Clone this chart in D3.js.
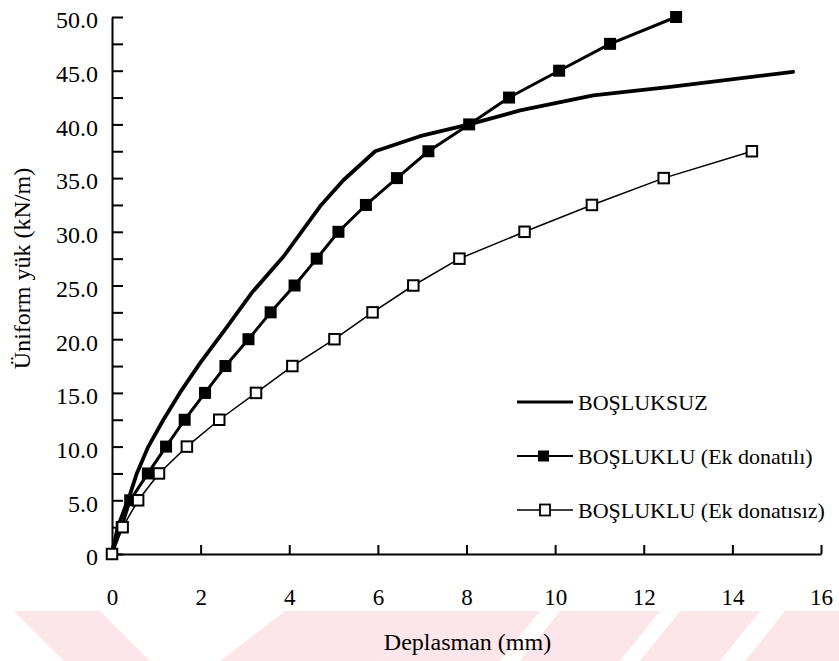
<!DOCTYPE html>
<html>
<head>
<meta charset="utf-8">
<script src="https://cdn.jsdelivr.net/npm/d3@7"></script>
<style>
  html, body { margin: 0; padding: 0; background: #fff; }
  svg { display: block; }
  text { font-family: "Liberation Serif", "Times New Roman", serif; fill: #000; }
</style>
</head>
<body>
<svg id="chart" width="839" height="661"></svg>
<script>
// Load–deflection test results
const seriesNames = ["BOŞLUKSUZ", "BOŞLUKLU (Ek donatılı)", "BOŞLUKLU (Ek donatısız)"];

// Solid slab (no openings): continuous curve
const deflSolid = [0, 0.13, 0.41, 0.56, 0.82, 1.16, 1.53, 1.99, 2.55, 3.15, 3.87, 4.70, 5.22, 5.94, 6.95, 8.06, 9.21, 10.86, 12.6, 15.37];
const loadSolid = [0, 2.5, 5.6, 7.5, 10.0, 12.5, 15.0, 17.8, 20.9, 24.3, 27.7, 32.4, 34.8, 37.5, 38.9, 40.0, 41.3, 42.7, 43.5, 44.9];

// Slab with openings, extra reinforcement (filled squares)
const deflReinf = [0, 0.22, 0.41, 0.81, 1.22, 1.64, 2.10, 2.56, 3.08, 3.58, 4.12, 4.62, 5.11, 5.73, 6.43, 7.14, 8.06, 8.96, 10.09, 11.24, 12.73];
const loadReinf = [0, 2.5, 5, 7.5, 10, 12.5, 15, 17.5, 20, 22.5, 25, 27.5, 30, 32.5, 35, 37.5, 40, 42.5, 45, 47.5, 50];

// Slab with openings, no extra reinforcement (open squares)
const deflPlain = [0, 0.24, 0.59, 1.06, 1.69, 2.42, 3.25, 4.07, 5.02, 5.88, 6.80, 7.84, 9.31, 10.83, 12.45, 14.44];
const loadPlain = [0, 2.5, 5, 7.5, 10, 12.5, 15, 17.5, 20, 22.5, 25, 27.5, 30, 32.5, 35, 37.5];

// Axis ticks
const xTicks = [0, 2, 4, 6, 8, 10, 12, 14, 16];
const yTicks = [0, 2.5, 5, 7.5, 10, 12.5, 15, 17.5, 20, 22.5, 25, 27.5, 30, 32.5, 35, 37.5, 40, 42.5, 45, 47.5, 50];

const svg = d3.select("#chart");

// Faint diagonal band decoration along the bottom edge
const band = svg.append("g").attr("fill", "#fde6ea");
const bandShapes = [
  [[14, 611], [100, 611], [150, 661], [64, 661]],
  [[285, 611], [420, 611], [380, 661], [220, 661]],
  [[420, 611], [540, 611], [500, 661], [380, 661]],
  [[560, 611], [660, 611], [620, 661], [520, 661]],
  [[680, 611], [760, 611], [720, 661], [640, 661]],
  [[785, 611], [839, 611], [839, 661], [745, 661]]
];
bandShapes.forEach(p => band.append("polygon").attr("points", p.map(q => q.join(",")).join(" ")));

const x = d3.scaleLinear().domain([0, 16]).range([112, 821]);
const y = d3.scaleLinear().domain([0, 50]).range([554, 17]);

const serif = '"Liberation Serif", "Times New Roman", serif';

// Y axis: inward ticks every 2.5, labels every 5
const yAxis = d3.axisLeft(y)
  .tickValues(yTicks)
  .tickSizeInner(-11)
  .tickSizeOuter(0)
  .tickPadding(14)
  .tickFormat(d => (d % 5 === 0 ? (d === 0 ? "0" : d.toFixed(1)) : ""));
const gy = svg.append("g").attr("transform", `translate(${x(0)},0)`).call(yAxis);
gy.select(".domain").attr("stroke", "#000").attr("stroke-width", 2);
gy.selectAll(".tick line").attr("stroke", "#000").attr("stroke-width", 2);
gy.selectAll(".tick text").attr("font-size", 24).attr("fill", "#000").attr("dy", "0.45em")
  .attr("font-family", serif);

// X axis: upward ticks every 2 mm
const xAxis = d3.axisBottom(x)
  .tickValues(xTicks)
  .tickSizeInner(-9)
  .tickSizeOuter(0)
  .tickPadding(35)
  .tickFormat(d3.format("d"));
const gx = svg.append("g").attr("transform", `translate(0,${y(0)})`).call(xAxis);
gx.select(".domain").attr("stroke", "#000").attr("stroke-width", 2);
gx.selectAll(".tick line").attr("stroke", "#000").attr("stroke-width", 2);
gx.selectAll(".tick text").attr("font-size", 23).attr("fill", "#000")
  .attr("font-family", serif);

// Axis titles
svg.append("text")
  .attr("transform", `translate(30,${(165 + 372) / 2}) rotate(-90)`)
  .attr("text-anchor", "middle")
  .attr("font-size", 24)
  .text("Üniform yük (kN/m)");
svg.append("text")
  .attr("x", (x(0) + x(16)) / 2 + 1)
  .attr("y", 650)
  .attr("text-anchor", "middle")
  .attr("font-size", 24)
  .text("Deplasman (mm)");

const line = d3.line().x(d => x(d[0])).y(d => y(d[1]));

// Curves
const solidPts = deflSolid.map((d, i) => [d, loadSolid[i]]);
const reinfPts = deflReinf.map((d, i) => [d, loadReinf[i]]);
const plainPts = deflPlain.map((d, i) => [d, loadPlain[i]]);

svg.append("path").datum(solidPts).attr("d", line)
  .attr("fill", "none").attr("stroke", "#000").attr("stroke-width", 3.8).attr("stroke-linejoin", "round").attr("stroke-linecap", "round");
svg.append("path").datum(reinfPts).attr("d", line)
  .attr("fill", "none").attr("stroke", "#000").attr("stroke-width", 3).attr("stroke-linejoin", "round");
svg.append("path").datum(plainPts).attr("d", line)
  .attr("fill", "none").attr("stroke", "#000").attr("stroke-width", 1.5).attr("stroke-linejoin", "round");

// Markers
const mFill = 12, mOpen = 10.5;
svg.append("g").selectAll("rect").data(reinfPts).join("rect")
  .attr("x", d => x(d[0]) - mFill / 2).attr("y", d => y(d[1]) - mFill / 2)
  .attr("width", mFill).attr("height", mFill).attr("fill", "#000");
svg.append("g").selectAll("rect").data(plainPts).join("rect")
  .attr("x", d => x(d[0]) - mOpen / 2).attr("y", d => y(d[1]) - mOpen / 2)
  .attr("width", mOpen).attr("height", mOpen).attr("fill", "#fff")
  .attr("stroke", "#000").attr("stroke-width", 2);

// Legend
const legend = svg.append("g");
const legRows = [
  { name: seriesNames[0], y: 402, sw: 3, marker: null },
  { name: seriesNames[1], y: 456, sw: 2, marker: "filled" },
  { name: seriesNames[2], y: 510, sw: 1.5, marker: "open" }
];
legRows.forEach(r => {
  legend.append("line").attr("x1", 517).attr("x2", 573).attr("y1", r.y).attr("y2", r.y)
    .attr("stroke", "#000").attr("stroke-width", r.sw);
  if (r.marker === "filled") {
    legend.append("rect").attr("x", 538).attr("y", r.y - 5.5).attr("width", 11).attr("height", 11).attr("fill", "#000");
  } else if (r.marker === "open") {
    legend.append("rect").attr("x", 540).attr("y", r.y - 5.5).attr("width", 10).attr("height", 11)
      .attr("fill", "#fff").attr("stroke", "#000").attr("stroke-width", 1.8);
  }
  legend.append("text").attr("x", 578).attr("y", r.y + 8).attr("font-size", 22).text(r.name);
});
</script>
</body>
</html>
